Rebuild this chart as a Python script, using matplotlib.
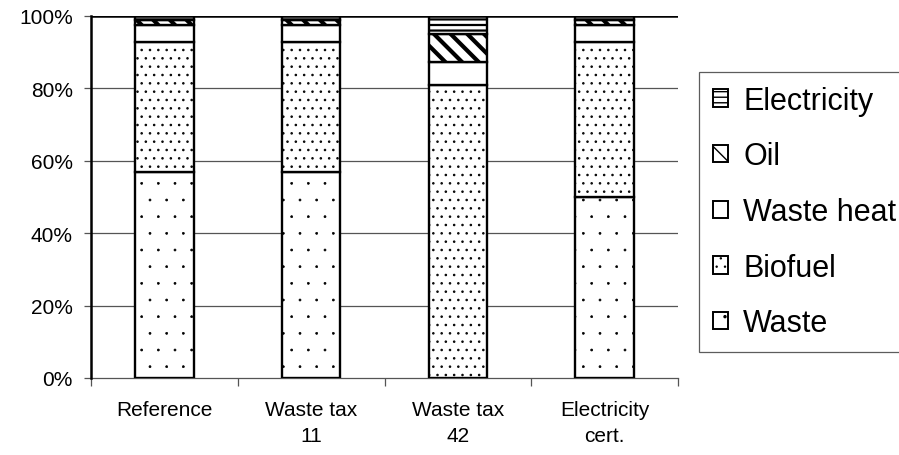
import matplotlib
matplotlib.use("Agg")
import matplotlib.pyplot as plt
import matplotlib.hatch as mhatch
from matplotlib.patches import Patch
import numpy as np

# Finer dots for the stippled fills
mhatch.SmallFilledCircles.size = 0.06

# Scenario results: share of each energy source (%)
categories = ["Reference", "Waste tax\n11", "Waste tax\n42", "Electricity\ncert."]
waste = [56.9, 56.9, 0.0, 50.0]
biofuel = [35.9, 35.9, 80.9, 42.8]
waste_heat = [4.8, 4.8, 6.5, 4.8]
oil = [1.2, 1.2, 7.6, 1.2]
electricity = [1.2, 1.2, 5.0, 1.2]

# name, values, hatch, hatch line width, hatch colour
series = [
    ("Waste", waste, ".", 0.5, "#333333"),
    ("Biofuel", biofuel, "..", 1.1, "#333333"),
    ("Waste heat", waste_heat, "", 1.0, "black"),
    ("Oil", oil, "\\\\", 3.0, "black"),
    ("Electricity", electricity, "---", 1.6, "black"),
]

plt.rcParams["font.family"] = ["Liberation Sans", "DejaVu Sans"]

fig = plt.figure(figsize=(8.99, 4.56), dpi=100)
ax = fig.add_axes([91 / 899, 1 - 379 / 456, (678 - 91) / 899, (379 - 17) / 456])

x = np.arange(len(categories))
bottom = np.zeros(len(categories))
handles = []
for name, vals, hatch, hlw, hcol in series:
    with plt.rc_context({"hatch.linewidth": hlw, "hatch.color": hcol}):
        ax.bar(x, vals, width=0.4, bottom=bottom, color="white",
               edgecolor="black", linewidth=1.7, hatch=hatch, zorder=3)
        handles.append(Patch(facecolor="white", edgecolor="black",
                             hatch=hatch, linewidth=1.4, label=name))
    bottom += np.array(vals)

ax.set_xlim(-0.5, len(categories) - 0.5)
ax.set_ylim(0, 100)
ax.set_yticks([0, 20, 40, 60, 80, 100])
ax.set_yticklabels(["0%", "20%", "40%", "60%", "80%", "100%"])
for yv in [20, 40, 60, 80]:
    ax.axhline(yv, color="#555555", linewidth=0.9, zorder=1)
ax.axhline(100, color="black", linewidth=1.8, zorder=4)

ax.set_xticks(x)
ax.set_xticklabels(categories, linespacing=1.45)
ax.set_xticks(np.arange(-0.5, len(categories)), minor=True)
ax.tick_params(axis="x", which="major", length=0, pad=16, labelsize=15)
ax.tick_params(axis="x", which="minor", length=6, width=0.9, color="#555555")
ax.tick_params(axis="y", length=5, width=0.9, color="#555555", pad=8, labelsize=15)

for s in ["top", "right"]:
    ax.spines[s].set_visible(False)
ax.spines["left"].set_linewidth(1.8)
ax.spines["left"].set_zorder(5)
ax.spines["bottom"].set_color("#555555")
ax.spines["bottom"].set_linewidth(0.9)

leg = fig.legend(handles[::-1], [h.get_label() for h in handles[::-1]],
                 loc="upper left", bbox_to_anchor=(699 / 899, 1 - 73 / 456),
                 fontsize=22, frameon=True, fancybox=False, edgecolor="#333333",
                 handlelength=0.5, handleheight=0.5, handletextpad=0.5,
                 labelspacing=0.84, borderpad=0.45, borderaxespad=0)
leg.get_frame().set_linewidth(0.9)

fig.savefig("out.png", dpi=100)
